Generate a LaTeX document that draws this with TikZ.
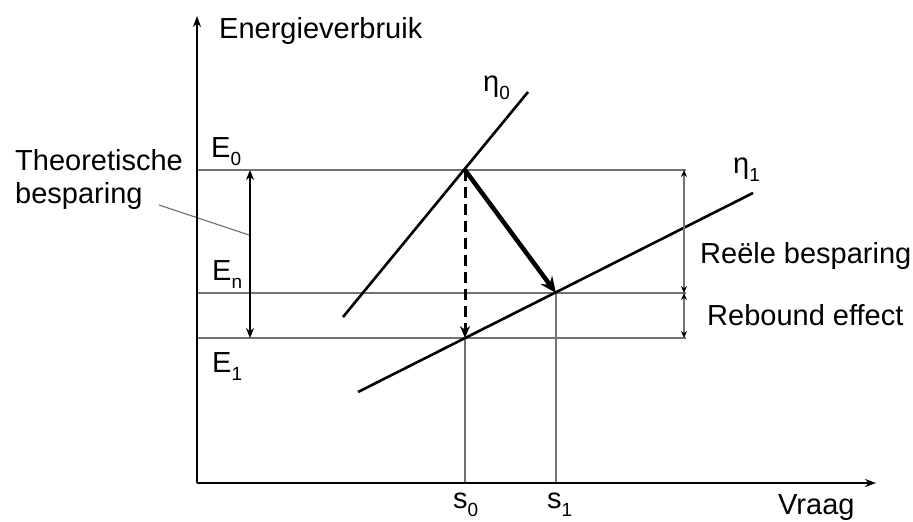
\documentclass[tikz,border=0pt]{standalone}
\usepackage{fontspec}
\setmainfont{Liberation Sans}
\usetikzlibrary{arrows.meta}
\newcommand\subsc[1]{\raisebox{-0.28em}{\fontsize{19}{19}\selectfont #1}}
\begin{document}
\begin{tikzpicture}[x=1pt,y=-1pt,
  lbl/.style={anchor=base west,inner sep=0pt,font=\fontsize{29}{33}\selectfont},
  axis/.style={line width=2.8pt,-{Stealth[length=11pt,width=8pt]}},
  grid/.style={line width=1.5pt,black!55},
  curve/.style={line width=2.6pt},
  dim/.style={line width=1.5pt,black!55,{Stealth[length=7pt,width=6pt,black]}-{Stealth[length=7pt,width=6pt,black]}}]
\useasboundingbox (0,0) rectangle (913,522);
% coordinates
\coordinate (O) at (197,483);
\coordinate (Ytop) at (197,16);
\coordinate (Xend) at (876,483);
\coordinate (E0l) at (197,170);
\coordinate (E0r) at (686,170);
\coordinate (Enl) at (197,293);
\coordinate (Enr) at (686,293);
\coordinate (E1l) at (197,338);
\coordinate (E1r) at (686,338);
\coordinate (P0) at (465,170);
\coordinate (P1) at (556,293);
\coordinate (Q) at (465,338);
\coordinate (S0) at (465,483);
\coordinate (S1) at (556,483);
\coordinate (A0) at (343,317);
\coordinate (B0) at (528,92);
\coordinate (A1) at (358,392);
\coordinate (B1) at (753,193);
\coordinate (Tt) at (250,170);
\coordinate (Tb) at (250,338);
\coordinate (Tm) at (249,235);
\coordinate (Lf) at (159,205);
\coordinate (Rt) at (684,170);
\coordinate (Rm) at (684,293);
\coordinate (Rb) at (684,338);
% grid lines
\draw[grid] (E0l) -- (E0r);
\draw[grid] (Enl) -- (Enr);
\draw[grid] (E1l) -- (E1r);
\draw[grid] (Q) -- (S0);
\draw[grid] (P1) -- (S1);
\draw[line width=1.1pt,black!60] (Lf) -- (Tm);
% axes
\draw[axis] (O) -- (Ytop);
\draw[axis] (O) -- (Xend);
% curves
\draw[curve] (A0) -- (B0);
\draw[curve] (A1) -- (B1);
% arrows
\draw[line width=2.4pt,{Stealth[length=10pt,width=8pt]}-{Stealth[length=10pt,width=8pt]}] (Tt) -- (Tb);
\draw[line width=3pt,dash pattern=on 11pt off 6pt,-{Stealth[length=12pt,width=10pt]}] (P0) -- (Q);
\draw[line width=4.5pt,-{Stealth[length=16pt,width=14pt]}] (P0) -- (P1);
\draw[dim] (Rt) -- (Rm);
\draw[dim] (Rm) -- (Rb);
% labels
\node[lbl] (ylab) at (219,38) {Energieverbruik};
\node[lbl] (xlab) at (778,514) {Vraag};
\node[lbl] (th1) at (15,170) {Theoretische};
\node[lbl] (th2) at (15,203) {besparing};
\node[lbl] (e0) at (211,157) {E\subsc{0}};
\node[lbl] (en) at (212,280) {E\subsc{n}};
\node[lbl] (e1) at (212,372) {E\subsc{1}};
\node[lbl] (eta0) at (483,91) {η\subsc{0}};
\node[lbl] (eta1) at (733,173) {η\subsc{1}};
\node[lbl] (reel) at (700,263) {Reële besparing};
\node[lbl] (reb) at (707,325) {Rebound effect};
\node[lbl] (s0) at (453,508) {s\subsc{0}};
\node[lbl] (s1) at (547,508) {s\subsc{1}};
\end{tikzpicture}
\end{document}
